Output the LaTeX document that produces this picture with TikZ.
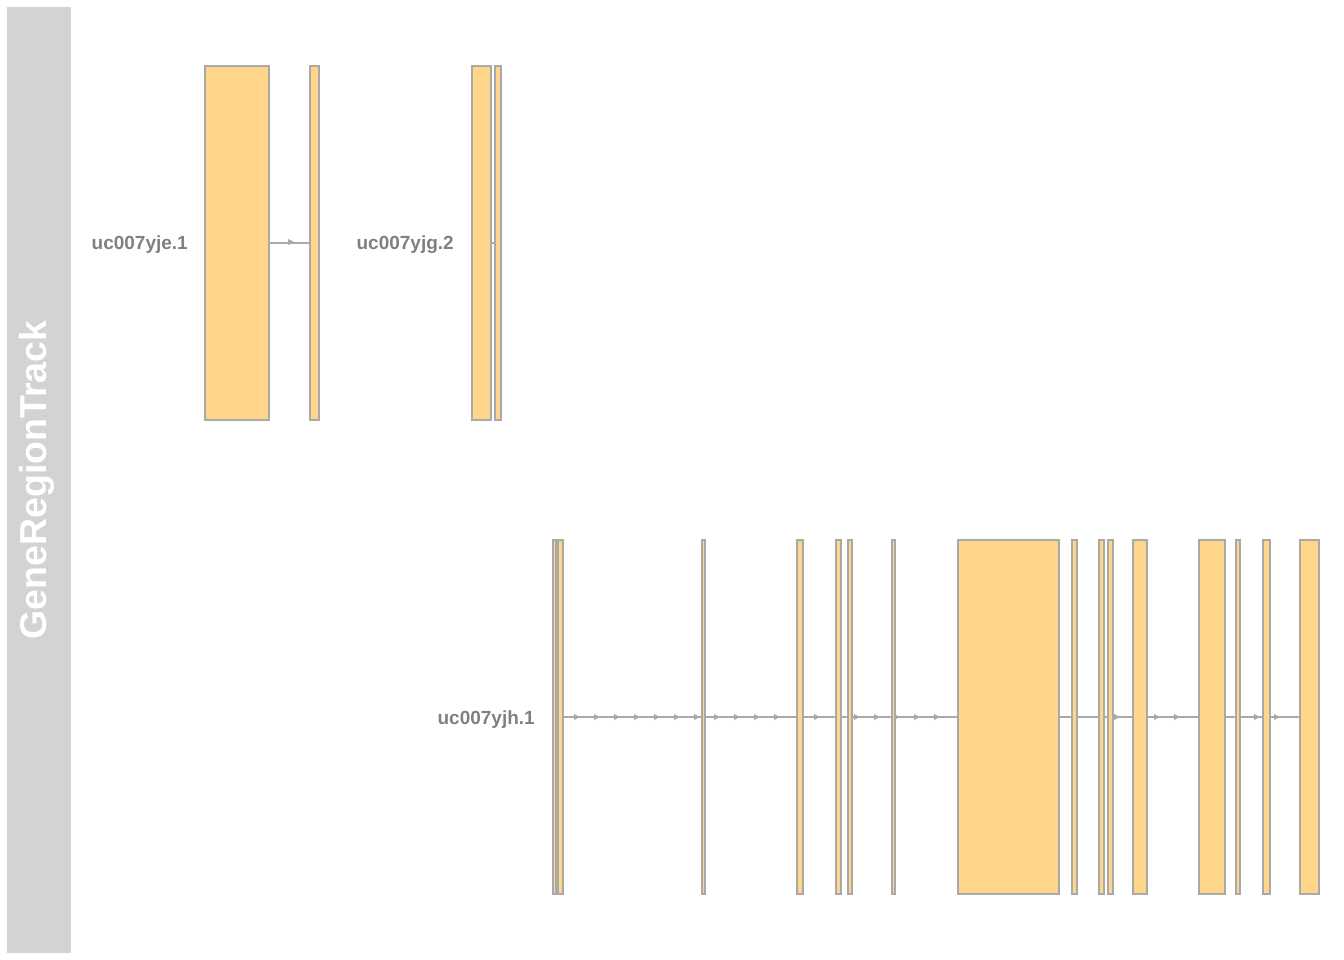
\documentclass[tikz,border=0pt]{standalone}
\usepackage{fontspec}
\setmainfont{Liberation Sans}
\definecolor{exonfill}{HTML}{FFD58A}
\definecolor{exonline}{HTML}{A9A9A9}
\definecolor{barfill}{HTML}{D3D3D3}
\definecolor{labgrey}{HTML}{808080}
\tikzset{
  exon/.style={draw=exonline, fill=exonfill, line width=2pt, inner sep=0pt, outer sep=0pt, rectangle},
  intron/.style={draw=exonline, line width=2pt},
  arrowhd/.style={fill=exonline, draw=none},
  lab/.style={text=labgrey, font=\bfseries\fontsize{19}{22}\selectfont, inner sep=0pt},
  titlebar/.style={fill=barfill, draw=none, inner sep=0pt, outer sep=0pt},
  titletext/.style={text=white, font=\bfseries\fontsize{37.5}{40}\selectfont, inner sep=0pt, rotate=90}
}
\newcommand{\ex}[4]{\node[exon, anchor=north west, minimum width=#3pt-#2pt, minimum height=354pt] (#1) at (#2,#4) {};}
\begin{document}
\begin{tikzpicture}[x=1pt,y=-1pt]
\useasboundingbox (0,0) rectangle (1344,960);
% title panel
\node[titlebar, anchor=north west, minimum width=64pt, minimum height=946pt] (bar) at (7,7) {};
\node[titletext, anchor=base] (title) at (46.5,480) {GeneRegionTrack};
% upper track
\ex{u1}{205}{269}{66}
\ex{u2}{310}{319}{66}
\ex{u3}{472}{491}{66}
\ex{u4}{494.5}{500.5}{66}
\draw[intron] (u1.east) -- (u2.west);
\draw[intron] (u3.east) -- (u4.west);
\fill[arrowhd] (288,239) -- (294,242) -- (288,245) -- cycle;
\node[lab, anchor=base east] (lyje) at (188,250) {uc007yje.1};
\node[lab, anchor=base east] (lyjg) at (454,250) {uc007yjg.2};
% lower track
\ex{l1}{553}{556}{540}
\ex{l2}{557.5}{562.5}{540}
\ex{l3}{702}{704.5}{540}
\ex{l4}{797}{802.5}{540}
\ex{l5}{836}{840.5}{540}
\ex{l6}{848}{851.5}{540}
\ex{l7}{892}{894.5}{540}
\ex{l8}{958}{1058.5}{540}
\ex{l9}{1072}{1076.5}{540}
\ex{l10}{1099}{1104}{540}
\ex{l11}{1108}{1112.5}{540}
\ex{l12}{1133}{1147}{540}
\ex{l13}{1199}{1225}{540}
\ex{l14}{1236}{1239.5}{540}
\ex{l15}{1263}{1269.5}{540}
\ex{l16}{1300}{1319}{540}
\foreach \a/\b in {l2/l3,l3/l4,l4/l5,l5/l6,l6/l7,l7/l8,l8/l9,l9/l10,l10/l11,l11/l12,l12/l13,l13/l14,l14/l15,l15/l16}
  \draw[intron] (\a.east) -- (\b.west);
\foreach \x in {577,597,617,637,657,677,697,717,737,757,777,817,857,877,897,917,937,1117,1157,1177,1257,1277}
  \fill[arrowhd] (\x-3,714) -- (\x+3,717) -- (\x-3,720) -- cycle;
\node[lab, anchor=base east] (lyjh) at (535,724) {uc007yjh.1};
\end{tikzpicture}
\end{document}
